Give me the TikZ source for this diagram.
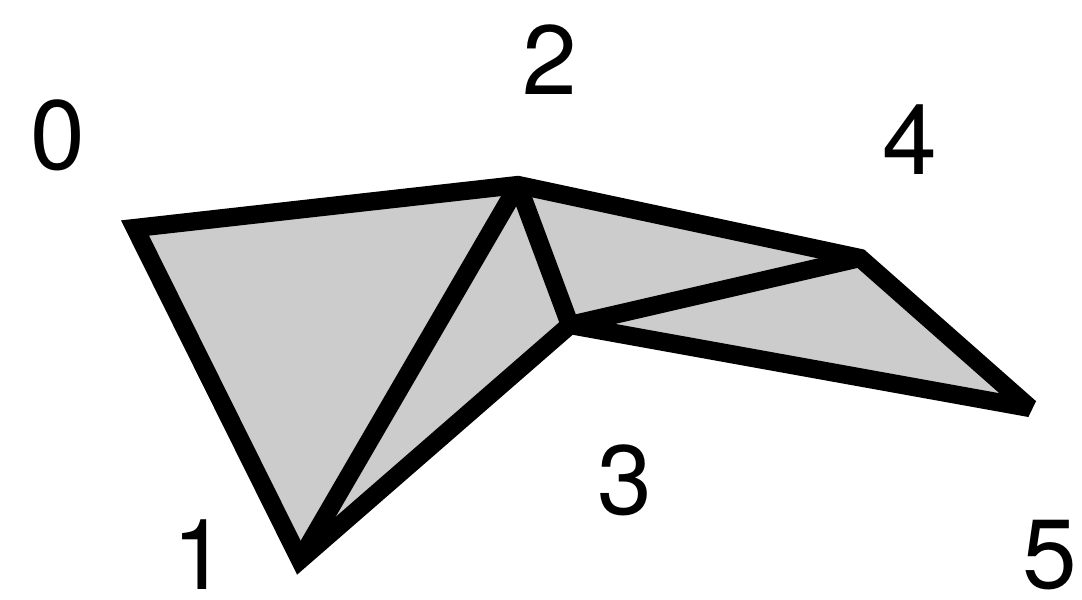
\documentclass[tikz,border=0pt]{standalone}
\usepackage{fontspec}
\setmainfont{TeX Gyre Heros}
\begin{document}
\begin{tikzpicture}[x=1cm, y=1cm,
  every node/.style={font=\fontsize{28}{30}\selectfont, inner sep=0pt},
  face/.style={fill=black!20, draw=none},
  edge/.style={draw=black, line width=5.2pt, miter limit=2}]
\useasboundingbox (0,0) rectangle (10.82,5.99);
% vertices
\coordinate (v0) at (1.35,3.71);
\coordinate (v1) at (3.00,0.39);
\coordinate (v2) at (5.18,4.14);
\coordinate (v3) at (5.70,2.74);
\coordinate (v4) at (8.60,3.41);
\coordinate (v5) at (10.30,1.91);
% labels
\node (l0) at (0.58,4.64) {0};
\node (l1) at (2.00,0.44) {1};
\node (l2) at (5.50,5.39) {2};
\node (l3) at (6.25,1.19) {3};
\node (l4) at (9.10,4.59) {4};
\node (l5) at (10.50,0.44) {5};
% faces
\fill[face] (v0) -- (v1) -- (v2) -- cycle;
\fill[face] (v1) -- (v2) -- (v3) -- cycle;
\fill[face] (v2) -- (v3) -- (v4) -- cycle;
\fill[face] (v3) -- (v4) -- (v5) -- cycle;
% edges
\draw[edge] (v0) -- (v2) -- (v4) -- (v5) -- (v3) -- (v1) -- cycle;
\draw[edge] (v1) -- (v2) -- (v3) -- (v4);
\end{tikzpicture}
\end{document}
